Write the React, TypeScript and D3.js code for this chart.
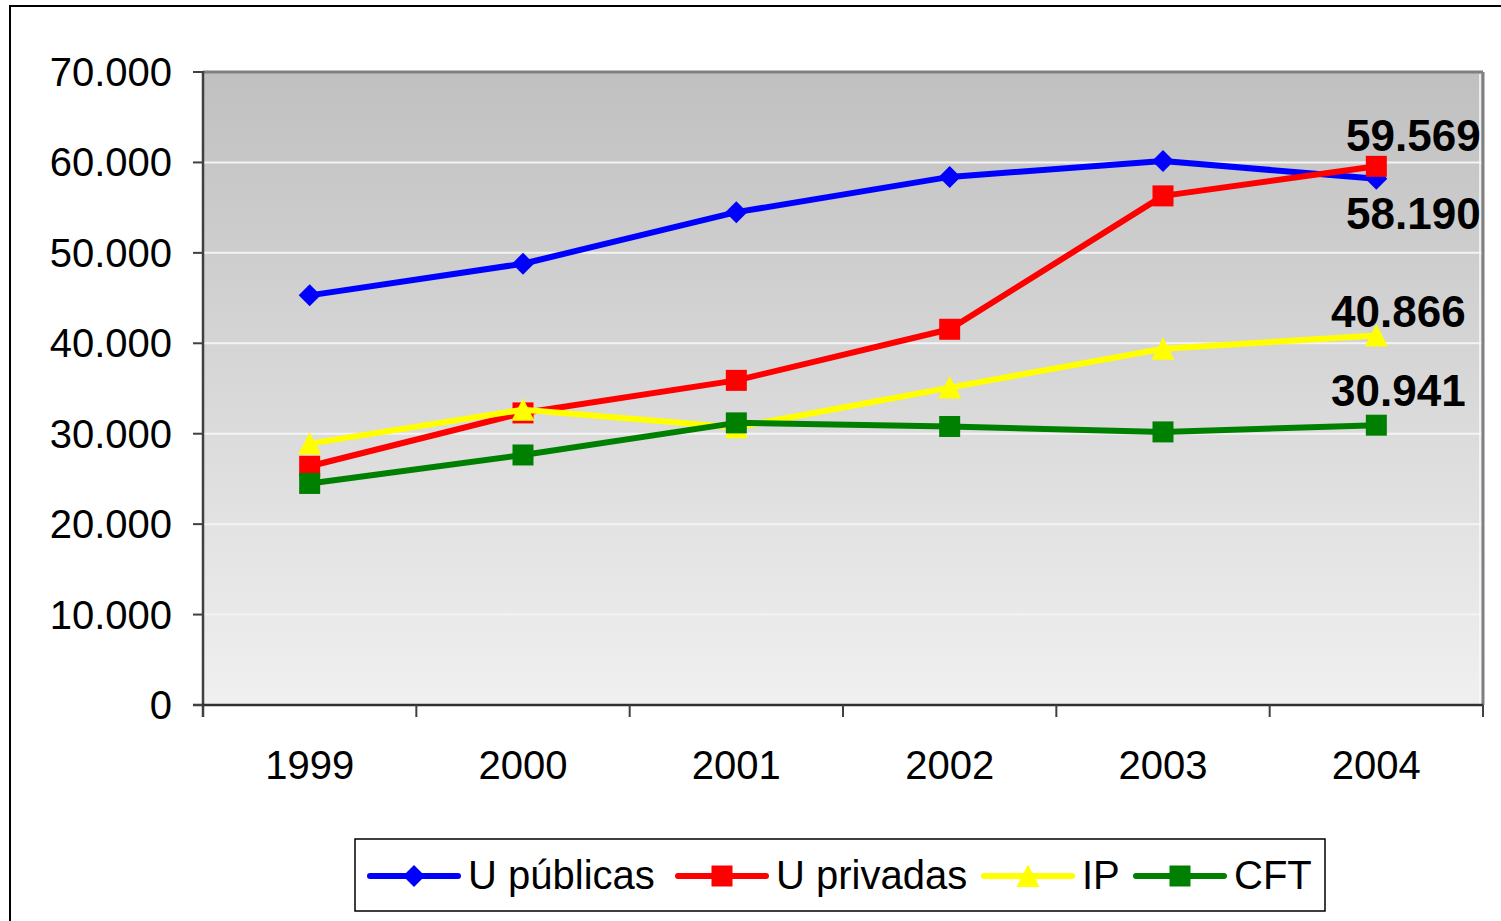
import React from "react";
import * as d3 from "d3";

const years = ["1999", "2000", "2001", "2002", "2003", "2004"];
const uPublicas = [45300, 48800, 54500, 58400, 60150, 58190];
const uPrivadas = [26400, 32300, 35900, 41550, 56300, 59569];
const ip = [28900, 32650, 30700, 35100, 39400, 40866];
const cft = [24500, 27650, 31200, 30800, 30200, 30941];
const yTicks = [0, 10000, 20000, 30000, 40000, 50000, 60000, 70000];
const seriesNames = ["U públicas", "U privadas", "IP", "CFT"];
const seriesColors = ["#0000ff", "#ff0000", "#ffff00", "#008000"];
const seriesMarkers = ["diamond", "square", "triangle", "square"];
const labelled = [
  { series: 1, dx: 37, dy: -15 },
  { series: 0, dx: 37, dy: 50 },
  { series: 2, dx: 22, dy: -8 },
  { series: 3, dx: 22, dy: -19 },
];

const W = 1501;
const H = 921;
const M = { left: 203, right: 1483, top: 72, bottom: 705 };

const locale = d3.formatLocale({ decimal: ",", thousands: ".", grouping: [3], currency: ["", ""] });
const fmt = locale.format(",");

function Marker({ kind, x, y, color }: { kind: string; x: number; y: number; color: string }) {
  if (kind === "diamond") {
    const s = 11;
    return <path d={`M${x},${y - s}L${x + s},${y}L${x},${y + s}L${x - s},${y}Z`} fill={color} />;
  }
  if (kind === "square") {
    const s = 10.5;
    return <rect x={x - s} y={y - s} width={2 * s} height={2 * s} fill={color} />;
  }
  const s = 11.5;
  return <path d={`M${x},${y - s}L${x + s},${y + s * 0.95}L${x - s},${y + s * 0.95}Z`} fill={color} />;
}

export default function App() {
  const series = [uPublicas, uPrivadas, ip, cft];
  const x = d3.scaleBand<string>().domain(years).range([M.left, M.right]);
  const y = d3.scaleLinear().domain([0, 70000]).range([M.bottom, M.top]);
  const cx = (yr: string) => (x(yr) as number) + x.bandwidth() / 2;
  const line = d3
    .line<number>()
    .x((_, i) => cx(years[i]))
    .y((d) => y(d));

  const legendStarts = [370, 678, 984, 1136];
  const font = "'Liberation Sans', Arial, sans-serif";

  return (
    <svg width={W} height={H} style={{ position: "absolute", left: 0, top: 0, background: "#fff" }} fontFamily={font}>
      <defs>
        <linearGradient id="bg" x1="0" y1="0" x2="0" y2="1">
          <stop offset="0" stopColor="#c0c0c0" />
          <stop offset="1" stopColor="#f0f0f0" />
        </linearGradient>
      </defs>
      {/* outer frame */}
      <path d={`M10,${H}L10,6L${W},6`} fill="none" stroke="#000" strokeWidth={2} />
      {/* plot area */}
      <rect x={M.left} y={M.top} width={M.right - M.left} height={M.bottom - M.top} fill="url(#bg)" />
      {yTicks.slice(1, -1).map((t) => (
        <line key={t} x1={M.left} x2={M.right} y1={y(t)} y2={y(t)} stroke="#f4f4f4" strokeWidth={2} />
      ))}
      <line x1={M.left} x2={M.right} y1={M.top} y2={M.top} stroke="#808080" strokeWidth={3} />
      <line x1={M.right} x2={M.right} y1={M.top} y2={M.bottom} stroke="#808080" strokeWidth={3} />
      <line x1={M.right - 3} x2={M.right - 3} y1={M.top + 2} y2={M.bottom} stroke="#fafafa" strokeWidth={1.5} />
      {/* axes */}
      <line x1={M.left} x2={M.left} y1={M.top - 1} y2={M.bottom + 12} stroke="#404040" strokeWidth={2.5} />
      <line x1={M.left - 10} x2={M.right} y1={M.bottom} y2={M.bottom} stroke="#303030" strokeWidth={2.5} />
      {yTicks.map((t) => (
        <g key={t}>
          <line x1={M.left - 10} x2={M.left} y1={y(t)} y2={y(t)} stroke="#404040" strokeWidth={2} />
          <text x={M.left - 31} y={y(t) + 14} fontSize={40} textAnchor="end" fill="#000">
            {fmt(t)}
          </text>
        </g>
      ))}
      {years.map((yr) => (
        <line key={"t" + yr} x1={(x(yr) as number) + x.bandwidth()} x2={(x(yr) as number) + x.bandwidth()} y1={M.bottom} y2={M.bottom + 12} stroke="#404040" strokeWidth={2} />
      ))}
      {years.map((yr) => (
        <text key={yr} x={cx(yr)} y={779} fontSize={40} textAnchor="middle" fill="#000">
          {yr}
        </text>
      ))}
      {/* series */}
      {series.map((s, si) => (
        <g key={si}>
          <path d={line(s) as string} fill="none" stroke={seriesColors[si]} strokeWidth={6} strokeLinejoin="round" />
          {s.map((v, i) => (
            <Marker key={i} kind={seriesMarkers[si]} x={cx(years[i])} y={y(v)} color={seriesColors[si]} />
          ))}
        </g>
      ))}
      {/* data labels */}
      {labelled.map((l) => {
        const v = series[l.series][years.length - 1];
        return (
          <text key={l.series} x={cx(years[years.length - 1]) + l.dx} y={y(v) + l.dy} fontSize={44} fontWeight="bold" textAnchor="middle" fill="#000">
            {fmt(v)}
          </text>
        );
      })}
      {/* legend */}
      <rect x={355} y={839} width={970} height={72} fill="#fff" stroke="#000" strokeWidth={1.5} />
      {seriesNames.map((n, i) => {
        const sx = legendStarts[i];
        return (
          <g key={n}>
            <line x1={sx} x2={sx + 88} y1={876} y2={876} stroke={seriesColors[i]} strokeWidth={6} strokeLinecap="round" />
            <Marker kind={seriesMarkers[i]} x={sx + 44} y={876} color={seriesColors[i]} />
            <text x={sx + 98} y={889} fontSize={40} fill="#000">
              {n}
            </text>
          </g>
        );
      })}
    </svg>
  );
}
